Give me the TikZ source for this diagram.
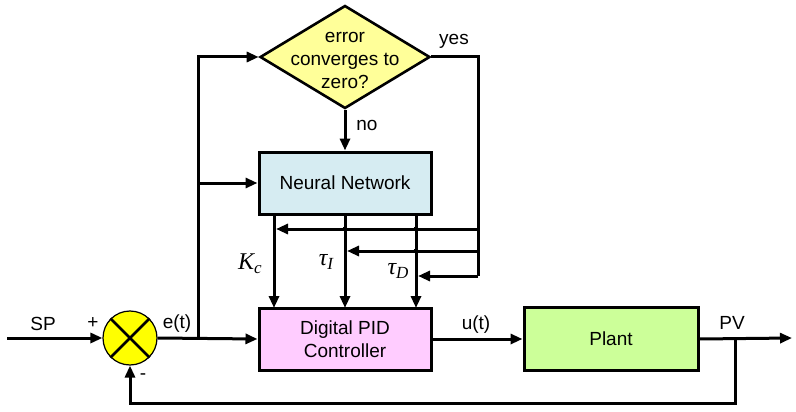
\documentclass[tikz,border=0pt]{standalone}
\usepackage{fontspec}
\setmainfont{Liberation Sans}
\newfontfamily\tnr{Liberation Serif}
\usetikzlibrary{arrows.meta,shapes.geometric}
\definecolor{dyel}{HTML}{FFFF99}
\definecolor{syel}{HTML}{FFFF00}
\definecolor{nnblue}{HTML}{D6ECF2}
\definecolor{pidpink}{HTML}{FFCCFF}
\definecolor{plgreen}{HTML}{CCFF99}
\begin{document}
\begin{tikzpicture}[x=1pt,y=-1pt,font=\fontsize{19}{23}\selectfont,
  line/.style={line width=3pt},
  arr/.style={line width=3pt,-{Triangle[length=12pt,width=10pt]}},
  blk/.style={draw,line width=3pt,minimum width=172pt,minimum height=62pt,inner sep=0pt,align=center},
  lbl/.style={inner sep=0pt},
  sym/.style={inner sep=0pt,font=\tnr\itshape\fontsize{24}{26}\selectfont},
  jdot/.style={circle,fill=black,inner sep=0pt,minimum size=5pt}]
\useasboundingbox (0,0) rectangle (796,412);
% blocks
\node[draw,diamond,fill=dyel,line width=2.6pt,minimum width=170pt,minimum height=103pt,inner sep=0pt] (dec) at (345,57) {};
\node[align=center,inner sep=0pt] (dect) at (345,60) {error\\converges to\\zero?};
\node[blk,fill=nnblue] (nn) at (345,183) {Neural Network};
\node[blk,fill=pidpink] (pid) at (345,339) {Digital PID\\Controller};
\node[blk,fill=plgreen,minimum width=174pt,minimum height=63pt] (plant) at (611,339) {Plant};
\node[draw,circle,fill=syel,line width=1.2pt,minimum size=54pt,inner sep=0pt] (sum) at (130,338) {};
\draw[line width=2.8pt] (sum.north west) -- (sum.south east) (sum.north east) -- (sum.south west);
% coordinates
\coordinate (spin) at (7,338);
\coordinate (ej) at (198,338);
\coordinate (nnin) at (198,183);
\coordinate (yr) at (478,276);
\coordinate (pvj) at (735,338);
\coordinate (fb) at (130,403);
\coordinate (out) at (792,338);
\coordinate (ka) at (274,214); \coordinate (kb) at (274,308);
\coordinate (ia) at (345,214); \coordinate (ib) at (345,308);
\coordinate (da) at (416,214); \coordinate (db) at (416,308);
\coordinate (h1) at (478,229); \coordinate (h1e) at (276,229);
\coordinate (h2) at (478,251); \coordinate (h2e) at (347,251);
\coordinate (h3e) at (418,276);
% connectors
\draw[arr] (spin) -- (sum.west);
\draw[arr] (sum.east) -- (pid.west);
\draw[arr] (ej) |- (dec.west);
\draw[arr] (nnin) -- (nn.west);
\draw[arr] (dec.south) -- (nn.north);
\draw[line] (dec.east) -| (yr);
\draw[arr] (ka) -- (kb);
\draw[arr] (ia) -- (ib);
\draw[arr] (da) -- (db);
\draw[arr] (h1) -- (h1e);
\draw[arr] (h2) -- (h2e);
\draw[arr] (yr) -- (h3e);
\draw[arr] (pid.east) -- (plant.west);
\draw[arr] (plant.east) -- (out);
\draw[arr] (pvj) |- (fb) -- (sum.south);
\node[jdot] (j1) at (345,229) {};
\node[jdot] (j2) at (416,229) {};
\node[jdot] (j3) at (416,251) {};
% labels
\node[lbl] (lsp) at (43,324) {SP};
\node[lbl] (lplus) at (93,323) {+};
\node[lbl] (lminus) at (143,377) {-};
\node[lbl] (let) at (177,324) {e(t)};
\node[lbl] (lut) at (476,325) {u(t)};
\node[lbl] (lpv) at (732,323) {PV};
\node[lbl] (lyes) at (454,41) {yes};
\node[lbl] (lno) at (367,125) {no};
\node[sym] (lk) at (250,264) {K\raisebox{-4pt}{\fontsize{17}{17}\selectfont c}};
\node[sym] (lti) at (326,262) {τ\raisebox{-4pt}{\fontsize{17}{17}\selectfont I}};
\node[sym] (ltd) at (398,271) {τ\raisebox{-4pt}{\fontsize{17}{17}\selectfont D}};
\end{tikzpicture}
\end{document}
